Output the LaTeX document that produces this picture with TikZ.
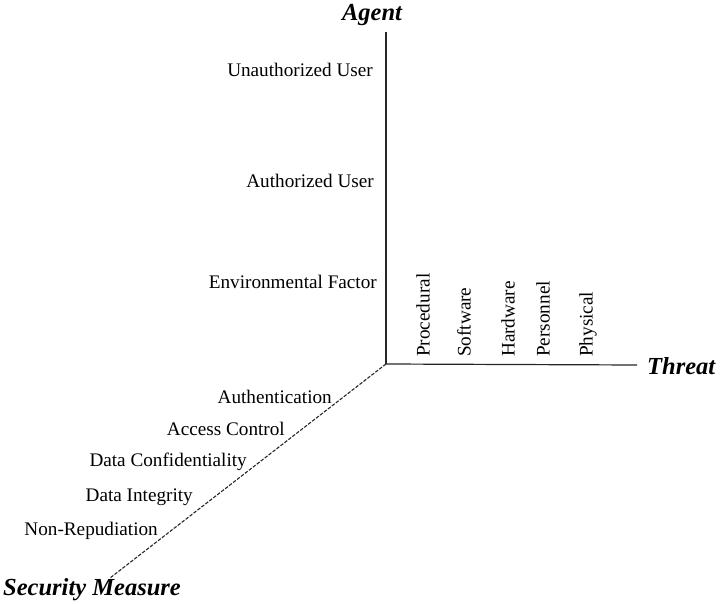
\documentclass[tikz,border=0pt]{standalone}
\usepackage{fontspec}
\setmainfont{Liberation Serif}
\usetikzlibrary{positioning}

\begin{document}
\begin{tikzpicture}[
        x=1pt, y=-1pt,
        axis/.style={draw=black!85, line width=1.2pt},
        title/.style={font=\fontsize{24.5}{28}\selectfont\bfseries\itshape, inner sep=0pt},
        level/.style={font=\fontsize{19.2}{22}\selectfont, inner sep=0pt, anchor=east},
        kind/.style={font=\fontsize{19.2}{22}\selectfont, inner sep=0pt, rotate=90, anchor=west}
    ]
        \useasboundingbox (0,0) rectangle (723,604);

        % the three axes meet here
        \coordinate (o) at (386,364);
        \coordinate (agentEnd) at (386,32);
        \coordinate (threatEnd) at (637,365);
        \coordinate (measureEnd) at (110,578);

        \node[title] (agent) at (372,15) {Agent};
        \node[title, anchor=west] (threat) at (647,366) {Threat};
        \node[title] (measure) at (92,590) {Security Measure};

        \draw[axis] (o) -- (agentEnd);
        \draw[axis] (o) -- (threatEnd);
        \draw[axis, line width=1.1pt, dash pattern=on 3.5pt off 1.5pt] (o) -- (measureEnd);

        % agent levels
        \node[level] (unauth) at (373,70) {Unauthorized User};
        \node[level] (auth) at (374,181) {Authorized User};
        \node[level] (env) at (377,282) {Environmental Factor};

        % threat kinds, set upright
        \foreach \name/\x in {Procedural/423, Software/464, Hardware/508, Personnel/543, Physical/588}
            \node[kind] (\name) at (\x,357) {\name};

        % security measures along the dashed axis
        \node[level] (authn) at (332,397) {Authentication};
        \node[level] (access) at (285,429) {Access Control};
        \node[level] (conf) at (247,462) {Data Confidentiality};
        \node[level] (integ) at (193,497) {Data Integrity};
        \node[level] (nonrep) at (158,531) {Non-Repudiation};
    \end{tikzpicture}
\end{document}
